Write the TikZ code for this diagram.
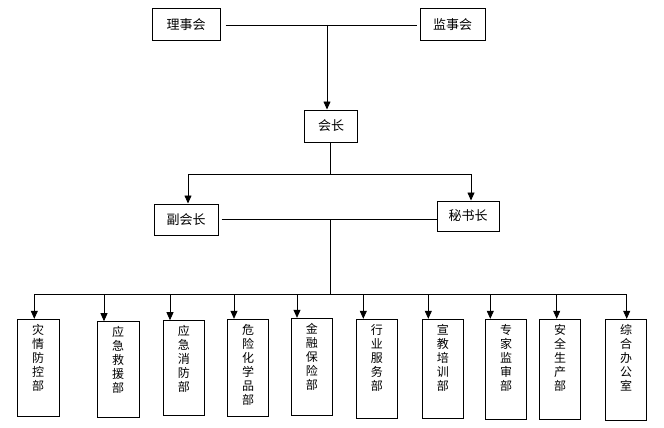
\documentclass[tikz,border=0pt]{standalone}
\usepackage{fontspec}
\setmainfont{Noto Sans CJK SC}
\usetikzlibrary{arrows.meta}
\begin{document}
\begin{tikzpicture}[x=1pt,y=-1pt,
  box/.style={draw,line width=1pt,inner sep=0pt,font=\fontsize{13}{15}\selectfont},
  dept/.style={draw,line width=1pt,inner sep=0pt},
  vtext/.style={anchor=north,inner sep=0pt,align=center,font=\fontsize{12}{14}\selectfont},
  ln/.style={line width=0.8pt},
  arr/.style={line width=0.8pt,-{Triangle[length=8pt,width=7pt]}}]
\useasboundingbox (0,0) rectangle (664,428);
% top level
\node[box,minimum width=68pt,minimum height=32pt] (lsh) at (186,25) {理事会};
\node[box,minimum width=65pt,minimum height=32pt] (jsh) at (452.5,25) {监事会};
\draw[ln] ([xshift=5pt]lsh.east) -- ([xshift=-3pt]jsh.west);
\node[box,minimum width=53pt,minimum height=32pt] (hz) at (331,126) {会长};
\coordinate (j1) at (327,25);
\draw[arr] (j1) -- (j1 |- hz.north);
% second level
\node[box,minimum width=64pt,minimum height=31pt] (fhz) at (186,219.5) {副会长};
\node[box,minimum width=62pt,minimum height=30pt] (msz) at (468,216) {秘书长};
\coordinate (b2) at (330,174);
\coordinate (b2l) at (188,174);
\coordinate (b2r) at (471,174);
\draw[ln] (hz.south -| b2) -- (b2);
\draw[ln] (b2l) -- (b2r);
\draw[arr] (b2l) -- (b2l |- fhz.north);
\draw[arr] (b2r) -- (b2r |- msz.north);
\draw[ln] ([xshift=3pt]fhz.east) -- (fhz.east -| msz.west);
% bus to departments
\coordinate (m3) at (330,220);
\coordinate (b3) at (330,294);
\coordinate (b3l) at (34.3,294);
\coordinate (b3r) at (626.7,294);
\draw[ln] (m3) -- (b3);
\draw[ln] (b3l) -- (b3r);
% departments: left, right, top, bottom, arrow x, name, text
\foreach \l/\r/\t/\b/\a/\n/\txt in {
  17.3/59/319.3/416.7/34.3/d1/{灾\\情\\防\\控\\部},
  97.3/139/321.7/417.3/104/d2/{应\\急\\救\\援\\部},
  163.3/204.3/320.7/415.7/170/d3/{应\\急\\消\\防\\部},
  227.3/268.7/319.3/416.7/234/d4/{危\\险\\化\\学\\品\\部},
  291.3/332.3/318.3/415.7/297/d5/{金\\融\\保\\险\\部},
  356.3/397.3/319.3/418.3/363.3/d6/{行\\业\\服\\务\\部},
  422.3/463.3/319.3/418/428.3/d7/{宣\\教\\培\\训\\部},
  485.7/526.7/319.3/419.3/490.3/d8/{专\\家\\监\\审\\部},
  539.3/580.7/319.3/419.3/556.7/d9/{安\\全\\生\\产\\部},
  605.7/646.7/319.3/420.7/626.7/d10/{综\\合\\办\\公\\室}} {
  \pgfmathsetmacro{\w}{\r-\l}
  \pgfmathsetmacro{\h}{\b-\t}
  \node[dept,minimum width=\w pt,minimum height=\h pt] (\n) at ({(\l+\r)/2},{(\t+\b)/2}) {};
  \node[vtext] (\n t) at ([yshift=-5pt]\n.north) {\txt};
  \coordinate (\n a) at (\a,294);
  \draw[arr] (\n a) -- (\n a |- \n.north);
}
\end{tikzpicture}
\end{document}
